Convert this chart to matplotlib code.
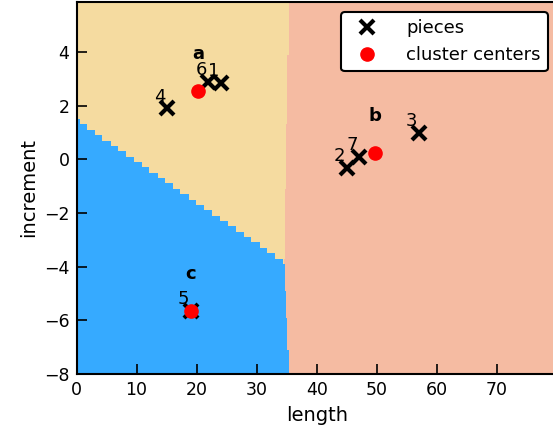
import numpy as np
import matplotlib
matplotlib.use("Agg")
import matplotlib.pyplot as plt
from matplotlib.colors import ListedColormap

# pieces (length, increment)
piece_ids = ["1", "2", "3", "4", "5", "6", "7"]
piece_length = [24.0, 45.0, 57.0, 15.0, 19.04, 21.9, 47.1]
piece_increment = [2.86, -0.33, 0.97, 1.90, -5.65, 2.89, 0.08]

# cluster centers
center_names = ["a", "b", "c"]
center_length = [20.3, 49.7, 19.04]
center_increment = [2.55, 0.24, -5.65]

region_colors = ["#F5DBA0", "#F5BBA2", "#36AAFF"]

fig = plt.figure(figsize=(5.53, 4.37), dpi=100)
ax = fig.add_axes([76.5 / 553, 63 / 437, 80 * 6.007 / 553, 372.5 / 437])

xlim = (0, 80)
ylim = (-8, 5.88)
h = 0.2
xx, yy = np.meshgrid(np.arange(xlim[0], xlim[1] + h, h), np.arange(ylim[0], ylim[1] + h, h))
cl = np.array(center_length)
ci = np.array(center_increment)
d = (xx[..., None] - cl) ** 2 + (yy[..., None] - ci) ** 2
Z = np.argmin(d, axis=-1)
ax.pcolormesh(xx, yy, Z, cmap=ListedColormap(region_colors), vmin=-0.5, vmax=2.5,
              shading="nearest", rasterized=True)

ax.plot(piece_length, piece_increment, "x", color="black", ms=10, mew=3,
        linestyle="none", label="pieces", zorder=3)
ax.plot(center_length, center_increment, "o", color="red", ms=9.5,
        linestyle="none", label="cluster centers", zorder=4)

for pid, px, py in zip(piece_ids, piece_length, piece_increment):
    ax.annotate(pid, (px, py), xytext=(-1.0, 2), textcoords="offset points",
                ha="right", va="bottom", fontsize=13, zorder=5)

for name, cx, cy in zip(center_names, center_length, center_increment):
    ax.annotate(name, (cx, cy), xytext=(0, 20), textcoords="offset points",
                ha="center", va="bottom", fontsize=13, fontweight="bold", zorder=5)

ax.set_xlim(*xlim)
ax.set_ylim(*ylim)
ax.set_xticks(range(0, 80, 10))
ax.set_yticks(range(-8, 5, 2))
ax.tick_params(direction="in", length=7, width=1.2, labelsize=12.5, pad=5)
for s in ax.spines.values():
    s.set_linewidth(1.5)
ax.spines["right"].set_visible(False)
ax.set_xlabel("length", fontsize=14, labelpad=5)
ax.set_ylabel("increment", fontsize=14, labelpad=4)

leg = ax.legend(loc="upper right", bbox_to_anchor=(548 / 553, (437 - 12) / 437),
                bbox_transform=fig.transFigure, borderaxespad=0, fontsize=13,
                framealpha=1, edgecolor="black", fancybox=True,
                borderpad=0.4, handletextpad=1.2)
leg.get_frame().set_linewidth(1.5)

fig.savefig("out.png", dpi=100)
